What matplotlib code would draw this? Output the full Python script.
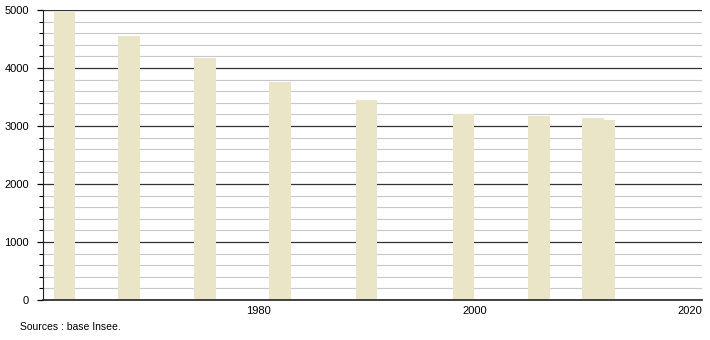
import matplotlib
matplotlib.use("Agg")
import matplotlib.pyplot as plt
from matplotlib.ticker import MultipleLocator

# population census years and values
years = [1962, 1968, 1975, 1982, 1990, 1999, 2006, 2011, 2012]
population = [4965, 4550, 4170, 3760, 3450, 3205, 3170, 3143, 3110]
x_ticks = [1980, 2000, 2020]
y_ticks = [0, 1000, 2000, 3000, 4000, 5000]

plt.rcParams["font.family"] = ["Liberation Sans", "DejaVu Sans"]

fig = plt.figure(figsize=(7.1, 3.4), dpi=100)
ax = fig.add_axes([43 / 710, 40 / 340, 659 / 710, 290 / 340])

ax.bar(years, population, width=2.0, color="#e9e5c6", zorder=2)

ax.set_xlim(1960, 2021.1)
ax.set_ylim(0, 5000)
ax.set_xticks(x_ticks)
ax.set_yticks(y_ticks)
ax.yaxis.set_minor_locator(MultipleLocator(200))

ax.grid(axis="y", which="minor", color="#c8c8c8", linewidth=0.8, zorder=0)
ax.grid(axis="y", which="major", color="#333333", linewidth=0.9, zorder=1)

for s in ["top", "right"]:
    ax.spines[s].set_visible(False)
ax.spines["left"].set_color("#222222")
ax.spines["bottom"].set_color("#222222")
ax.spines["bottom"].set_linewidth(1.2)

ax.tick_params(axis="y", which="major", length=4, width=0.9, labelsize=8, pad=6)
ax.tick_params(axis="y", which="minor", length=3, width=0.8)
ax.tick_params(axis="x", length=0, labelsize=8, pad=4)

fig.text(20 / 710, 1 - 327 / 340, "Sources : base Insee.", fontsize=7.5, va="center")

fig.savefig("out.png", dpi=100)
